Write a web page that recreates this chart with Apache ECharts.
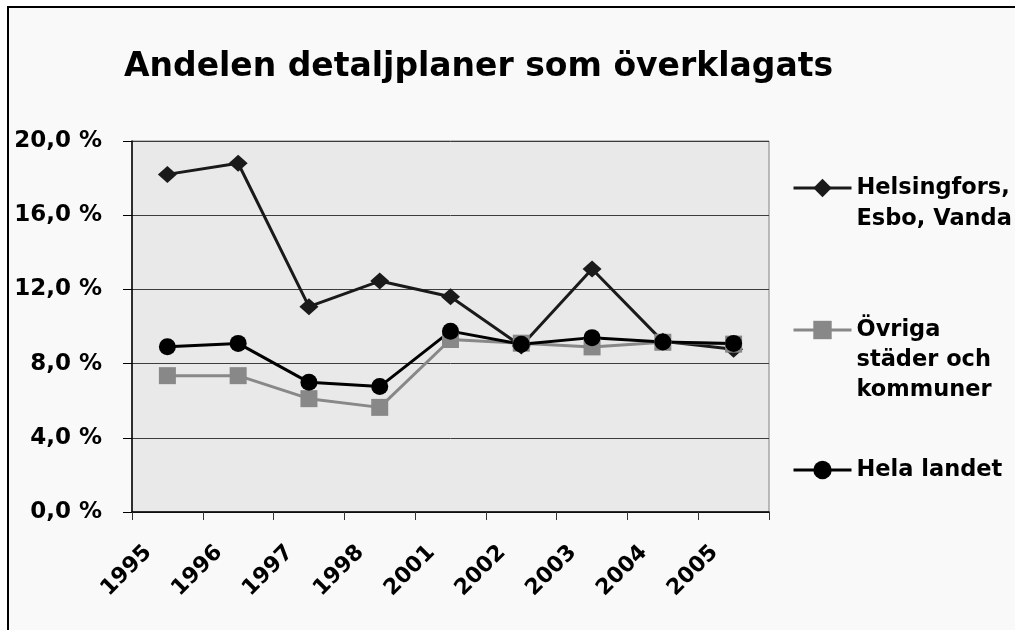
<!DOCTYPE html>
<html>
<head>
<meta charset="utf-8">
<script src="https://cdn.jsdelivr.net/npm/echarts@6/dist/echarts.min.js"></script>
<style>
html,body{margin:0;padding:0;background:#ffffff;}
#chart{width:1015px;height:630px;}
</style>
</head>
<body>
<div id="chart"></div>
<script>
const titleText = 'Andelen detaljplaner som överklagats';
const categories = ['1995', '1996', '1997', '1998', '2001', '2002', '2003', '2004', '2005'];
const seriesNames = ['Helsingfors,\nEsbo, Vanda', 'Övriga\nstäder och\nkommuner', 'Hela landet'];
const helsingfors = [18.2, 18.8, 11.07, 12.45, 11.6, 8.95, 13.1, 9.2, 8.77];
const ovriga = [7.35, 7.35, 6.11, 5.64, 9.3, 9.1, 8.9, 9.15, 9.05];
const helaLandet = [8.91, 9.09, 6.99, 6.76, 9.75, 9.04, 9.4, 9.16, 9.09];
const yTicks = [0, 4, 8, 12, 16, 20];

const FONT = 'DejaVu Sans';
const chart = echarts.init(document.getElementById('chart'), null, {renderer: 'canvas'});

// Each legend entry: icon aligned with the first text line (blank lines above keep it centred there)
function legendFor(name, iconY, lh) {
  const lines = name.split('\n').length;
  const boxH = (2 * lines - 1) * lh;
  return {
    data: [name],
    left: 792,
    top: iconY - boxH / 2,
    padding: 0,
    orient: 'vertical',
    itemWidth: 58,
    itemHeight: 23,
    itemGap: 0,
    selectedMode: false,
    lineStyle: {width: 3},
    formatter: function (n) {
      return '\n'.repeat(lines - 1) + n;
    },
    textStyle: {
      color: '#000',
      fontFamily: FONT,
      fontWeight: 'bold',
      fontSize: 22.5,
      lineHeight: lh
    }
  };
}

const option = {
  animation: false,
  backgroundColor: '#ffffff',
  graphic: [{
    type: 'rect',
    z: -100,
    silent: true,
    shape: {x: 8, y: 7, width: 1100, height: 700},
    style: {fill: '#f9f9f9', stroke: '#000', lineWidth: 2}
  }],
  title: {
    text: titleText,
    left: 124,
    top: 51,
    padding: 0,
    textStyle: {
      fontFamily: FONT,
      fontWeight: 'bold',
      fontSize: 33,
      color: '#000'
    }
  },
  legend: [
    legendFor(seriesNames[0], 188, 31),
    legendFor(seriesNames[1], 330, 30),
    legendFor(seriesNames[2], 470, 31)
  ],
  grid: {
    left: 132,
    right: 246,
    top: 141,
    bottom: 118,
    show: true,
    backgroundColor: '#e9e9e9',
    borderColor: '#808080',
    borderWidth: 1
  },
  xAxis: {
    type: 'category',
    data: categories,
    boundaryGap: true,
    axisLine: {show: true, lineStyle: {color: '#000', width: 1.5}},
    axisTick: {show: true, length: 8, interval: 0, lineStyle: {color: '#333'}},
    splitLine: {show: false},
    axisLabel: {
      interval: 0,
      rotate: 45,
      margin: 18,
      padding: [0, 27, 0, 0],
      color: '#000',
      fontFamily: FONT,
      fontWeight: 'bold',
      fontSize: 22
    }
  },
  yAxis: {
    type: 'value',
    min: yTicks[0],
    max: yTicks[yTicks.length - 1],
    interval: yTicks[1] - yTicks[0],
    axisLine: {show: true, lineStyle: {color: '#000', width: 1.5}},
    axisTick: {show: true, length: 9, lineStyle: {color: '#000'}},
    splitLine: {show: true, lineStyle: {color: '#3c3c3c', width: 1}},
    axisLabel: {
      margin: 30,
      color: '#000',
      fontFamily: FONT,
      fontWeight: 'bold',
      fontSize: 23,
      formatter: function (v) { return v.toFixed(1).replace('.', ',') + ' %'; }
    }
  },
  series: [
    {
      name: seriesNames[0],
      type: 'line',
      data: helsingfors,
      symbol: 'diamond',
      symbolSize: [19, 17],
      lineStyle: {color: '#1a1a1a', width: 3},
      itemStyle: {color: '#1a1a1a'},
      emphasis: {disabled: true}
    },
    {
      name: seriesNames[1],
      type: 'line',
      data: ovriga,
      symbol: 'rect',
      symbolSize: 17,
      lineStyle: {color: '#888888', width: 3},
      itemStyle: {color: '#888888'},
      emphasis: {disabled: true}
    },
    {
      name: seriesNames[2],
      type: 'line',
      data: helaLandet,
      symbol: 'circle',
      symbolSize: 17,
      lineStyle: {color: '#000000', width: 3},
      itemStyle: {color: '#000000'},
      emphasis: {disabled: true}
    }
  ]
};
chart.setOption(option);
</script>
</body>
</html>
